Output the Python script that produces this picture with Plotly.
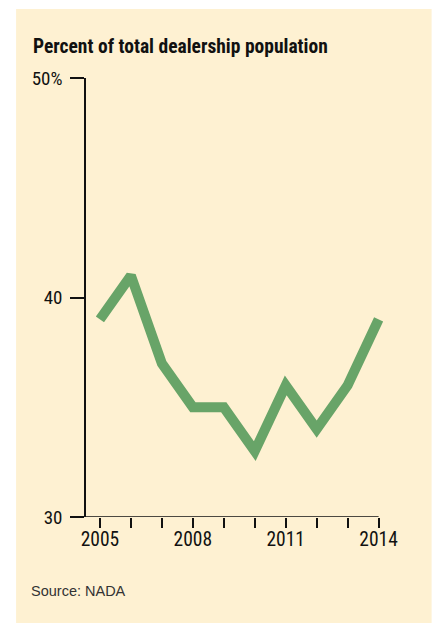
import plotly.graph_objects as go

years = [2005, 2006, 2007, 2008, 2009, 2010, 2011, 2012, 2013, 2014]
percent = [39, 41, 37, 35, 35, 33, 36, 34, 36, 39]
x_tick_vals = [2005, 2006, 2007, 2008, 2009, 2010, 2011, 2012, 2013, 2014]
x_tick_text = ["2005", "", "", "2008", "", "", "2011", "", "", "2014"]
y_tick_vals = [30, 40, 50]
y_tick_text = ["30", "40", "50%"]

W, H = 436, 623
L, T = 86, 78
px_per_year = 31.0
x0, x1 = 2004.55, 2014.4
plot_w = (x1 - x0) * px_per_year
B = 623 - 517
R = W - L - plot_w
plot_h = H - T - B

def px_x(p):
    return (p - L) / plot_w

def px_y(p):
    return (H - B - p) / plot_h

NARROW = "Roboto Condensed, Liberation Sans Narrow, sans-serif"
CREAM = "#fef1d2"

fig = go.Figure()
fig.add_trace(go.Scatter(
    x=years, y=percent, mode="lines",
    line=dict(color="#68a468", width=10),
    hoverinfo="skip", showlegend=False,
))

fig.add_shape(type="rect", xref="paper", yref="paper",
              x0=px_x(16), x1=px_x(432), y0=px_y(624), y1=px_y(9),
              fillcolor=CREAM, line=dict(width=0), layer="below")
fig.add_shape(type="line", xref="x", yref="y", x0=x0, x1=2014, y0=30, y1=30,
              line=dict(color="#111", width=1.5), layer="above")

fig.add_annotation(text="<b>Percent of total dealership population</b>",
                   xref="paper", yref="paper", x=px_x(31), y=px_y(60),
                   xanchor="left", yanchor="bottom", showarrow=False,
                   font=dict(family=NARROW, size=19.5, color="#111"))
fig.add_annotation(text="Source: NADA",
                   xref="paper", yref="paper", x=px_x(29), y=px_y(601),
                   xanchor="left", yanchor="bottom", showarrow=False,
                   font=dict(family="Liberation Sans, Arial, sans-serif", size=14.5, color="#333"))

fig.update_layout(
    width=W, height=H,
    margin=dict(l=L, r=R, t=T, b=B, pad=0, autoexpand=False),
    paper_bgcolor="white", plot_bgcolor="rgba(0,0,0,0)",
    xaxis=dict(range=[x0, x1], showgrid=False, zeroline=False, showline=False,
               automargin=False,
               tickmode="array", tickvals=x_tick_vals, ticktext=x_tick_text,
               ticks="outside", ticklen=10, tickwidth=1.5, tickcolor="#111",
               ticklabelstandoff=-5,
               tickfont=dict(family=NARROW, size=19.5, color="#111"),
               fixedrange=True),
    yaxis=dict(range=[30, 50], showgrid=False, zeroline=False, showline=True,
               automargin=False,
               linecolor="#111", linewidth=1.5,
               tickmode="array", tickvals=y_tick_vals, ticktext=y_tick_text,
               ticks="outside", ticklen=14, tickwidth=1.5, tickcolor="#111",
               ticklabelstandoff=4,
               tickfont=dict(family=NARROW, size=19, color="#111"),
               fixedrange=True),
)

fig.write_html("out.html", config={"displayModeBar": False},
               post_script="document.documentElement.style.overflow='hidden';document.body.style.margin='0px';document.body.style.overflow='hidden';")
